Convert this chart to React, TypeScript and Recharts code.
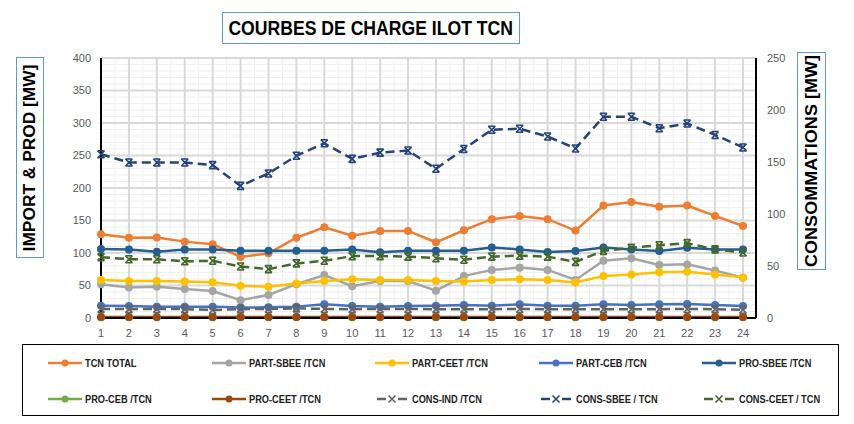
import React from "react";
import { LineChart, Line, XAxis, YAxis, CartesianGrid } from "recharts";

const hours = [1, 2, 3, 4, 5, 6, 7, 8, 9, 10, 11, 12, 13, 14, 15, 16, 17, 18, 19, 20, 21, 22, 23, 24];

// import & production (left axis, MW)
const tcnTotal = [129, 123.5, 124, 117.5, 113.5, 94, 99.5, 123.5, 139.5, 126.5, 134, 134, 116.5, 135, 152, 157, 152, 134.5, 173, 178.5, 171, 173, 157, 141.5];
const partSbee = [52, 47, 48, 44.5, 41.5, 27.5, 35.5, 52, 66, 49, 57, 57, 42, 64.5, 74, 77.5, 74, 58.5, 88, 92, 81.5, 82.5, 73, 62];
const partCeet = [58.5, 57, 57, 56, 55, 49.5, 48, 53, 57, 59.5, 58.5, 58.5, 57, 56, 58.5, 59.5, 58.5, 54.5, 64.5, 67, 70.5, 71, 67, 62.5];
const partCeb = [19, 18.5, 17.5, 17.5, 17.5, 16, 16.5, 17.5, 21, 18.5, 17.5, 18.5, 19, 20, 19, 21, 19, 19, 21, 20, 21, 21.5, 20, 18.5];
const proSbee = [106, 105.5, 102, 105.5, 105.5, 103.5, 103.5, 103.5, 103.5, 105.5, 101, 103.5, 103.5, 103.5, 108.5, 105.5, 101.5, 103, 108.5, 105.5, 103, 108, 105.5, 105.5];
const proCeb = [1, 1, 1, 1, 1, 1, 1, 1, 1, 1, 1, 1, 1, 1, 1, 1, 1, 1, 1, 1, 1, 1, 1, 1];
const proCeet = [1.5, 1.5, 1.5, 1.5, 1.5, 1.5, 1.5, 1.5, 1.5, 1.5, 1.5, 1.5, 1.5, 1.5, 1.5, 1.5, 1.5, 1.5, 1.5, 1.5, 1.5, 1.5, 1.5, 1.5];

// consumptions (right axis, MW)
const consInd = [8.7, 8.5, 8.7, 8.5, 7.7, 8.5, 8.7, 9.3, 8.7, 8.5, 8.7, 8.7, 8.5, 8.5, 8.5, 8.7, 8.5, 8.5, 8.5, 8.5, 8.5, 8.7, 8.5, 7.9];
const consSbee = [157.5, 149.5, 149.5, 149.5, 147, 127, 139, 156, 168, 153, 159, 161, 143.5, 162.5, 181, 182, 174.5, 163, 193.5, 193.5, 182.5, 187, 176, 164];
const consCeet = [58.5, 56.5, 56.5, 54.5, 55, 49.5, 47, 52.5, 55, 59.5, 59.5, 59, 57.5, 56, 59, 60, 59, 54, 64.5, 67.5, 70, 72, 66, 63];

const leftTicks = [0, 50, 100, 150, 200, 250, 300, 350, 400];
const rightTicks = [0, 50, 100, 150, 200, 250];
const minorY = [10, 20, 30, 40, 60, 70, 80, 90, 110, 120, 130, 140, 160, 170, 180, 190, 210, 220, 230, 240, 260, 270, 280, 290, 310, 320, 330, 340, 360, 370, 380, 390];
const minorX = hours.slice(0, -1).map((h) => h + 0.5);

const data = hours.map((h, i) => ({
  h,
  tcnTotal: tcnTotal[i],
  partSbee: partSbee[i],
  partCeet: partCeet[i],
  partCeb: partCeb[i],
  proSbee: proSbee[i],
  proCeb: proCeb[i],
  proCeet: proCeet[i],
  consInd: consInd[i],
  consSbee: consSbee[i],
  consCeet: consCeet[i],
}));

const series = [
  { key: "tcnTotal", name: "TCN TOTAL", color: "#ED7D31", axis: "left", cons: false },
  { key: "partSbee", name: "PART-SBEE /TCN", color: "#A5A5A5", axis: "left", cons: false },
  { key: "partCeet", name: "PART-CEET /TCN", color: "#FFC000", axis: "left", cons: false },
  { key: "partCeb", name: "PART-CEB /TCN", color: "#4472C4", axis: "left", cons: false },
  { key: "proSbee", name: "PRO-SBEE /TCN", color: "#255E91", axis: "left", cons: false },
  { key: "proCeb", name: "PRO-CEB /TCN", color: "#70AD47", axis: "left", cons: false },
  { key: "proCeet", name: "PRO-CEET /TCN", color: "#9E480E", axis: "left", cons: false },
  { key: "consInd", name: "CONS-IND /TCN", color: "#636363", axis: "right", cons: true },
  { key: "consSbee", name: "CONS-SBEE / TCN", color: "#264478", axis: "right", cons: true },
  { key: "consCeet", name: "CONS-CEET / TCN", color: "#43682B", axis: "right", cons: true },
];

const font = "'Liberation Sans', Arial, sans-serif";
const tickStyle = { fontSize: 11, fill: "#595959", fontFamily: font };
const border = { stroke: "#000", strokeWidth: 2 };

const crossDot = (color: string) => (props: any) => {
  const { cx, cy, index } = props;
  if (cx == null || cy == null) return <g key={index} />;
  const s = 3.5;
  return (
    <path
      key={index}
      d={`M${cx - s},${cy - s}L${cx + s},${cy + s}M${cx - s},${cy + s}L${cx + s},${cy - s}M${cx - s},${cy - s}H${cx + s}M${cx - s},${cy + s}H${cx + s}`}
      stroke={color}
      strokeWidth={1.6}
      fill="none"
    />
  );
};

function LegendIcon({ color, cons }: { color: string; cons: boolean }) {
  return (
    <svg width={34} height={12} style={{ display: "block", flex: "none" }}>
      {cons ? (
        <>
          <line x1={2} y1={6} x2={11} y2={6} stroke={color} strokeWidth={2.5} />
          <line x1={23} y1={6} x2={32} y2={6} stroke={color} strokeWidth={2.5} />
          <path d="M13.5,2.5L20.5,9.5M13.5,9.5L20.5,2.5" stroke={color} strokeWidth={1.6} />
        </>
      ) : (
        <>
          <line x1={0} y1={6} x2={34} y2={6} stroke={color} strokeWidth={2.5} />
          <circle cx={17} cy={6} r={3.5} fill={color} />
        </>
      )}
    </svg>
  );
}

function ChartLegend() {
  return (
    <div
      style={{
        position: "absolute",
        left: 22,
        top: 344,
        width: 815,
        height: 70,
        border: "1px solid #000",
        background: "#fff",
      }}
    >
      {series.map((s, i) => (
        <div
          key={s.key}
          style={{
            position: "absolute",
            left: 25 + (i % 5) * 163.5,
            top: (i < 5 ? 18 : 54) - 7,
            height: 14,
            display: "flex",
            alignItems: "center",
            gap: 3,
            whiteSpace: "nowrap",
          }}
        >
          <LegendIcon color={s.color} cons={s.cons} />
          <span
            style={{
              display: "inline-block",
              fontFamily: font,
              fontSize: 11,
              fontWeight: "bold",
              color: "#222",
              transform: "scaleX(0.84)",
              transformOrigin: "left center",
            }}
          >
            {s.name}
          </span>
        </div>
      ))}
    </div>
  );
}

const titleBox = {
  position: "absolute" as const,
  border: "1px solid #5B9BD5",
  background: "#fff",
  display: "flex",
  alignItems: "center",
  justifyContent: "center",
  fontFamily: font,
  fontWeight: "bold" as const,
  color: "#000",
  boxSizing: "border-box" as const,
  whiteSpace: "nowrap" as const,
};

export default function App() {
  return (
    <div style={{ position: "relative", width: 854, height: 424, margin: -8, background: "#D9D9D9", overflow: "hidden" }}>
      <div style={{ position: "absolute", left: 5, top: 6, width: 841, height: 410, background: "#fff" }} />
      <div style={{ ...titleBox, left: 222, top: 12, width: 298, height: 32 }}>
        <span style={{ display: "inline-block", fontSize: 20, transform: "scaleX(0.88)" }}>COURBES DE CHARGE ILOT TCN</span>
      </div>
      <div style={{ ...titleBox, left: 16, top: 57, width: 28, height: 201 }}>
        <span style={{ display: "inline-block", transform: "rotate(-90deg) scaleX(1.02)", fontSize: 17 }}>IMPORT &amp; PROD [MW]</span>
      </div>
      <div style={{ ...titleBox, left: 797, top: 52, width: 29, height: 218 }}>
        <span style={{ display: "inline-block", transform: "rotate(-90deg) scaleX(1.06)", fontSize: 17 }}>CONSOMMATIONS [MW]</span>
      </div>
      <div style={{ position: "absolute", left: 0, top: 0 }}>
        <LineChart width={854} height={424} data={data} margin={{ top: 58, right: 0, bottom: 76, left: 0 }}>
          <CartesianGrid
            xAxisId="x"
            yAxisId="left"
            stroke="#EFEFEF"
            strokeWidth={1}
            horizontalValues={minorY}
            verticalValues={minorX}
          />
          <CartesianGrid
            xAxisId="x"
            yAxisId="left"
            stroke="#D9D9D9"
            strokeWidth={2}
            horizontalValues={leftTicks}
            verticalValues={hours}
          />
          <XAxis
            xAxisId="x"
            type="number"
            dataKey="h"
            domain={[1, 24]}
            ticks={hours}
            interval={0}
            padding={{ left: 0, right: 13 }}
            height={30}
            tickSize={0}
            tickMargin={11}
            axisLine={border}
            tick={tickStyle}
          />
          <XAxis xAxisId="top" orientation="top" height={0} tick={false} tickLine={false} axisLine={border} />
          <YAxis
            yAxisId="left"
            orientation="left"
            width={101}
            domain={[0, 400]}
            ticks={leftTicks}
            interval={0}
            tickSize={0}
            tickMargin={10}
            axisLine={border}
            tick={tickStyle}
          />
          <YAxis
            yAxisId="right"
            orientation="right"
            width={98}
            domain={[0, 250]}
            ticks={rightTicks}
            interval={0}
            tickSize={0}
            tickMargin={11}
            axisLine={border}
            tick={{ ...tickStyle, textAnchor: "start" }}
          />
          {series.map((s) => (
            <Line
              key={s.key}
              xAxisId="x"
              yAxisId={s.axis}
              dataKey={s.key}
              name={s.name}
              type="linear"
              stroke={s.color}
              strokeWidth={2.5}
              strokeDasharray={s.cons ? "9 5" : undefined}
              dot={s.cons ? crossDot(s.color) : { r: 4, fill: s.color, stroke: s.color, strokeWidth: 0 }}
              activeDot={false}
              isAnimationActive={false}
            />
          ))}
        </LineChart>
      </div>
      <ChartLegend />
    </div>
  );
}
